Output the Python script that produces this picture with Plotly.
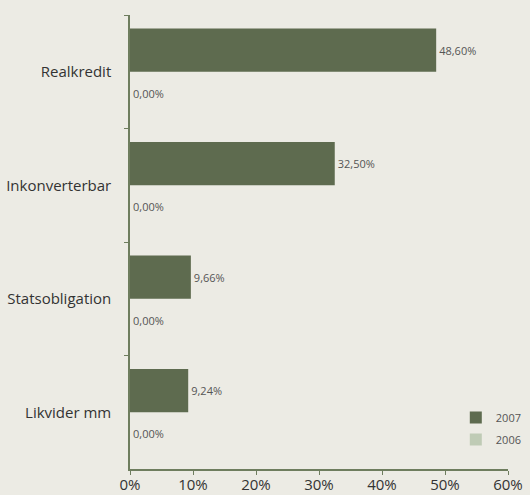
import plotly.graph_objects as go

categories = ['Realkredit', 'Inkonverterbar', 'Statsobligation', 'Likvider mm']
values_2007 = [48.60, 32.50, 9.66, 9.24]
values_2006 = [0.00, 0.00, 0.00, 0.00]
x_ticks = [0, 10, 20, 30, 40, 50, 60]
x_tick_labels = ['0%', '10%', '20%', '30%', '40%', '50%', '60%']

BG = '#ECEBE4'
AXIS = '#6E7D5E'
FONT = 'Open Sans, sans-serif'

fig = go.Figure()

fig.add_trace(go.Bar(
    y=categories, x=values_2007, name='2007', orientation='h',
    legendgroup='a',
    marker=dict(color='#5E6B4F', line=dict(width=0)),
    texttemplate='%{x:.2f}%', textposition='outside',
    textfont=dict(size=11, color='#555555'), cliponaxis=False,
))
fig.add_trace(go.Bar(
    y=categories, x=values_2006, name='2006', orientation='h',
    legendgroup='b',
    marker=dict(color='#BFCBB5', line=dict(width=0)),
    texttemplate='%{x:.2f}%', textposition='outside',
    textfont=dict(size=11, color='#555555'), cliponaxis=False,
))

fig.update_layout(
    width=530, height=495,
    margin=dict(l=130, r=22, t=15, b=26, autoexpand=False),
    paper_bgcolor=BG, plot_bgcolor=BG,
    barmode='group', bargap=0.24, bargroupgap=0,
    separators=',.',
    font=dict(family=FONT, color='#333333'),
    showlegend=True,
    legend=dict(
        xref='container', yref='container',
        x=0.86, y=0.186, xanchor='left', yanchor='top',
        font=dict(size=11, color='#555555'),
        bgcolor='rgba(0,0,0,0)', itemwidth=30,
        tracegroupgap=3,
    ),
)

fig.update_xaxes(
    range=[0, 60], tickmode='array', tickvals=x_ticks, ticktext=x_tick_labels,
    showgrid=False, zeroline=False, automargin=False,
    showline=True, linecolor=AXIS, linewidth=1.5,
    ticks='outside', ticklen=4, tickcolor=AXIS,
    tickfont=dict(size=15, color='#333333'),
    ticklabelstandoff=-3,
)

fig.update_yaxes(
    autorange='reversed', showgrid=False, zeroline=False, automargin=False,
    showline=True, linecolor=AXIS, linewidth=1.5,
    ticks='outside', ticklen=4, tickcolor=AXIS, tickson='boundaries',
    tickfont=dict(size=15, color='#333333'),
    ticklabelstandoff=14,
)

fig.write_html(
    "out.html",
    config={'displayModeBar': False},
    post_script="document.body.style.margin='0';document.body.style.background='#ECEBE4';",
)
